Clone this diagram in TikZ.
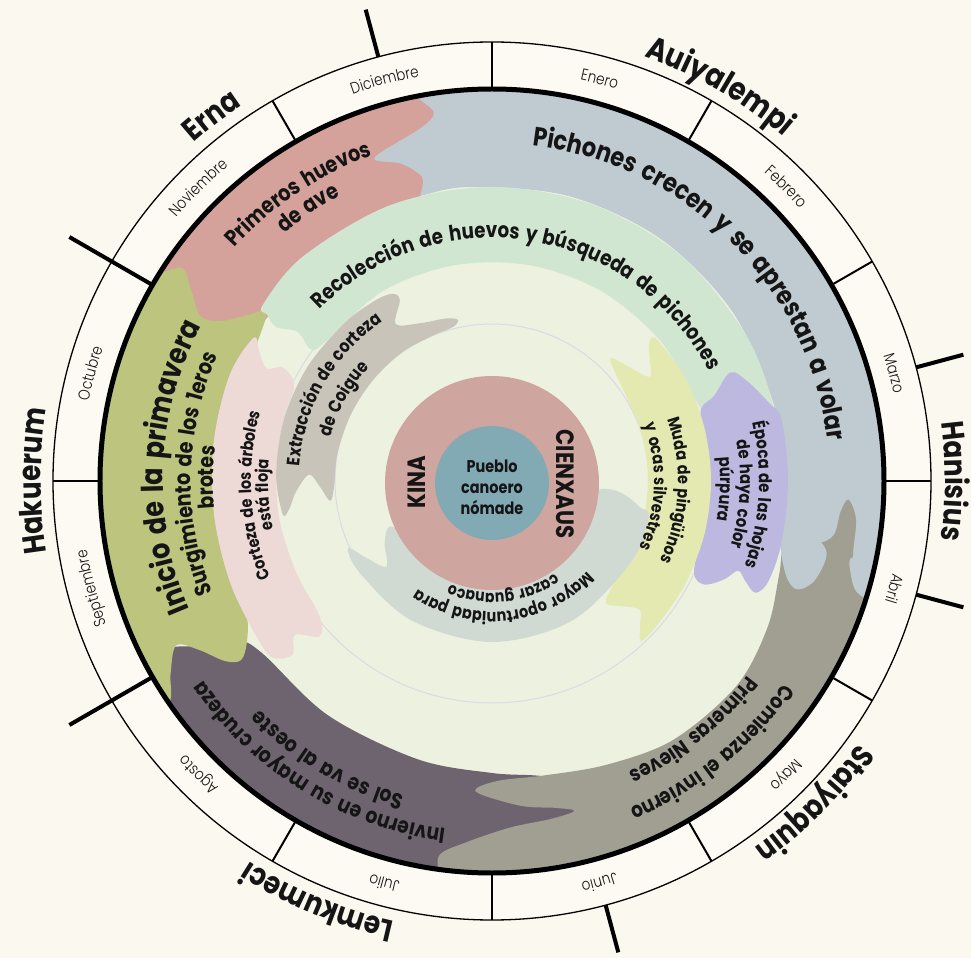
\documentclass[tikz,border=0pt]{standalone}
\usepackage{fontspec}
\setmainfont{Poppins}[BoldFont={Poppins Bold},WordSpace=1.5,FakeStretch=0.85]
\newfontfamily\lightfont{Poppins Light}[WordSpace=1.3,FakeStretch=0.85]
\usetikzlibrary{decorations.text}
\definecolor{cbg}{HTML}{FBF8F0}
\definecolor{cring}{HTML}{FDFAF3}
\definecolor{cpale}{HTML}{ECF2DF}
\definecolor{cthin}{HTML}{DDD8E6}
\definecolor{cblue}{HTML}{C0CBD1}
\definecolor{csalmon}{HTML}{D4A29B}
\definecolor{cpurple}{HTML}{6E6470}
\definecolor{cgray}{HTML}{A19E92}
\definecolor{colive}{HTML}{BCC47D}
\definecolor{cgreen}{HTML}{D0E6D1}
\definecolor{cpink}{HTML}{EDDAD7}
\definecolor{clav}{HTML}{BCB8E0}
\definecolor{ctaupe}{HTML}{C9C4BA}
\definecolor{cyellow}{HTML}{E4E9B1}
\definecolor{cmayor}{HTML}{D0DAD2}
\definecolor{cpinkc}{HTML}{CFA5A0}
\definecolor{cteal}{HTML}{82AAB5}
\definecolor{ctext}{HTML}{151515}
\newcommand{\arctext}[4]{\path[decorate,decoration={text along path,text align=center,text color=ctext,text={|\bfseries\fontsize{#3}{#3}\selectfont|#4}}] ({#2+85}:#1pt) arc[start angle={#2+85},end angle={#2-85},radius=#1pt];}
\newcommand{\arcmonth}[2]{\path[decorate,decoration={text along path,text align=center,text color=ctext,text={|\lightfont\fontsize{16}{16}\selectfont|#2}}] ({#1+40}:411pt) arc[start angle={#1+40},end angle={#1-40},radius=411pt];}
\tikzset{blob/.style={smooth cycle,tension=0.55}}
\begin{document}
\begin{tikzpicture}[x=1pt,y=1pt]
\useasboundingbox (-492,-477) rectangle (479,481);
\fill[cbg] (-492,-477) rectangle (479,481);
\fill[cring] (0,0) circle[radius=439pt];
\fill[cpale] (0,0) circle[radius=392pt];
\draw[cthin,line width=1pt] (0,0) circle[radius=157pt];
\draw[cthin,line width=1pt] (0,0) circle[radius=222pt];
% outer band
\begin{scope}
\clip (0,0) circle[radius=392pt];
\fill[cblue] plot[blob] coordinates {(114:425) (95:425) (75:425) (55:425) (35:425) (15:425) (-5:425) (-16:425) (-17:380) (-16:320) (-10:293) (0:291) (15:292) (35:294) (55:295) (75:295) (95:295) (108:296) (114:320) (115:370)};
\fill[csalmon] plot[blob] coordinates {(101:425) (101:393) (99:373) (101.5:360) (110:344) (106:330) (103:312) (104:296) (106:283) (120:278) (135:278) (147:282) (151:320) (151:425) (125:425)};
\fill[cpurple] plot[blob] coordinates {(-90:425) (-110:425) (-130:425) (-150:425) (-153:392) (-152.5:360) (-150:330) (-148:300) (-143:287) (-125:286) (-105:288) (-90:292) (-80:300) (-74:320) (-74:340) (-80:352) (-88:370) (-90:395)};
\fill[cgray] plot[blob] coordinates {(-3:357) (-6:366) (-11:368) (-13:372) (-14:392) (-15:425) (-35:425) (-55:425) (-75:425) (-92:425) (-97:400) (-98:378) (-94:362) (-87:347) (-80:343) (-76:340) (-79:333) (-85:326) (-93:311) (-89:300) (-80:299) (-68:306) (-55:316) (-40:319) (-28:312) (-18:302) (-12:300) (-11:330) (-9:346) (-5:350)};
\fill[cblue] plot[blob] coordinates {(-8:292) (-14:298) (-18.5:312) (-19.5:325) (-17:338) (-12:342) (-9:320)};
\fill[cblue] plot[blob] coordinates {(-12:368) (-15:372) (-17:382) (-17:398) (-12:400)};
\fill[colive] plot[blob] coordinates {(150:425) (170:425) (190:425) (214:425) (214.5:392) (211:375) (207.5:356) (210:338) (214:322) (215.5:308) (213:292) (208:278) (195:268) (180:268) (165:268) (150:272) (143:282) (145.5:294) (149.5:315) (150.5:335) (147.5:357) (145.5:376) (148:393)};
\end{scope}
% band C
\fill[cgreen] plot[blob] coordinates {(142.5:289) (130:293.5) (110:294) (90:294) (70:294) (50:294) (30:293) (15:291) (11:280) (12:250) (15:226) (22:219) (40:219) (60:219) (80:219) (100:219) (120:219) (140:217) (144:224) (142.5:245) (144.5:265) (143.5:280)};
\fill[cpink] plot[blob] coordinates {(149:278) (158:283) (172:281) (187:280) (202:281) (216:283) (219.5:279) (221:264) (218:250) (222:232) (218:219) (205:216) (190:216) (175:216) (162:217) (154:220) (151.5:238) (153.5:252) (151:266)};
\fill[clav] plot[blob] coordinates {(12:296) (0:296) (-12:296) (-20:294) (-23:286) (-21.5:272) (-20:262) (-23:252) (-26:236) (-24.5:222) (-15:216) (0:216) (12:216) (19:221) (21:238) (24.5:262) (21:275) (16:287)};
% band B
\fill[ctaupe] plot[blob] coordinates {(189:212) (178:216) (163:217) (148:217) (133:216) (123:215) (118:212) (117:203) (121.5:184) (114:173) (106:169) (102:165) (104:159) (112:157) (125:157) (140:156) (155:156) (170:157) (182:158) (187:163) (182:172) (178:183) (183:196) (188:205)};
\fill[cyellow] plot[blob] coordinates {(41:217) (28:219) (14:219) (0:219) (-14:219) (-28:219) (-40:219) (-47:219) (-44:206) (-41:196) (-44:180) (-47:167) (-40:159) (-25:157) (-10:156) (5:156) (20:157) (35:160) (46:170) (40:178) (33.5:189) (38:200) (41:208)};
% band A
\fill[cmayor] plot[blob] coordinates {(-4:118) (-6:134) (-10:150) (-13:161) (-30:161) (-60:161) (-90:161) (-120:161) (-145:161) (-155:159) (-149:148) (-141:136) (-150:124) (-156:113) (-150:104) (-120:100) (-60:100) (-20:100) (-6:104)};
% centre
\fill[cpinkc] (0,-2) circle[radius=107pt];
\fill[cteal] (0,-2) circle[radius=57pt];
% rings and lines
\draw[line width=5pt] (0,0) circle[radius=392pt];
\draw[line width=1.3pt] (0,0) circle[radius=439pt];
\foreach \a in {0,30,...,330} \draw[line width=2pt] (\a:392pt) -- (\a:439pt);
\foreach \a in {105,15,-15,-75} \draw[line width=4pt] (\a:439pt) -- (\a:488pt);
\foreach \a in {150,-150} \draw[line width=4pt] (\a:393pt) -- (\a:488pt);
% months
\arcmonth{75}{Enero}
\arcmonth{45}{Febrero}
\arcmonth{15}{Marzo}
\arcmonth{-15}{Abril}
\arcmonth{-45}{Mayo}
\arcmonth{-75}{Junio}
\arcmonth{-105}{Julio}
\arcmonth{-135}{Agosto}
\arcmonth{-165}{Septiembre}
\arcmonth{165}{Octubre}
\arcmonth{135}{Noviembre}
\arcmonth{105}{Diciembre}
% seasons
\arctext{451}{127.5}{31}{Erna}
\arctext{451}{60}{32}{Auiyalempi}
\arctext{453}{0}{31}{Hanisius}
\arctext{451}{-45}{31}{Staiyaquin}
\arctext{451}{-112.5}{31}{Lemkumeci}
\arctext{451}{180}{31}{Hakuerum}
% outer band texts
\arctext{338}{45}{26.5}{Pichones crecen y se aprestan a volar}
\arctext{347}{124}{22.5}{Primeros huevos}
\arctext{323}{124}{22.5}{de ave}
\arctext{329}{177.5}{30}{Inicio de la primavera}
\arctext{301}{178.6}{22.5}{Surgimiento de los 1eros}
\arctext{279}{179.3}{22}{brotes}
\arctext{351}{-121.5}{22}{Invierno en su mayor crudeza}
\arctext{326}{-120.5}{22}{Sol se va al oeste}
\arctext{355}{-51}{21.5}{Comienza el invierno}
\arctext{321}{-51}{21.5}{Primeras Nieves}
% band C texts
\arctext{243}{81}{21.5}{Recolección de huevos y búsqueda de pichones}
\arctext{241}{183.5}{17}{Corteza de los árboles}
\arctext{224}{183.5}{17}{está floja}
\arctext{267}{-3}{17.5}{Época de las hojas}
\arctext{248}{-3}{17.5}{de haya color}
\arctext{228}{-2}{17.5}{púrpura}
% band B texts
\arctext{193}{150}{18}{Extracción de corteza}
\arctext{167}{151}{18}{de Coigue}
\arctext{186}{-3}{17}{Muda de pingüinos}
\arctext{162}{-2}{17}{y ocas silvestres}
% band A texts
\arctext{131}{-84}{17}{Mayor oportunidad para}
\arctext{112}{-84}{16.5}{cazar guanaco}
% centre texts
\node[text=ctext,font=\bfseries\fontsize{17}{21}\selectfont,align=center] (pueblo) at (0,-6) {Pueblo\\canoero\\nómade};
\node[text=ctext,font=\bfseries\fontsize{25}{25}\selectfont,rotate=90] (kina) at (-75.5,-1) {KINA};
\node[text=ctext,font=\bfseries\fontsize{25}{25}\selectfont,rotate=-90] (cienxaus) at (73,-3) {CIENXAUS};
\end{tikzpicture}
\end{document}
